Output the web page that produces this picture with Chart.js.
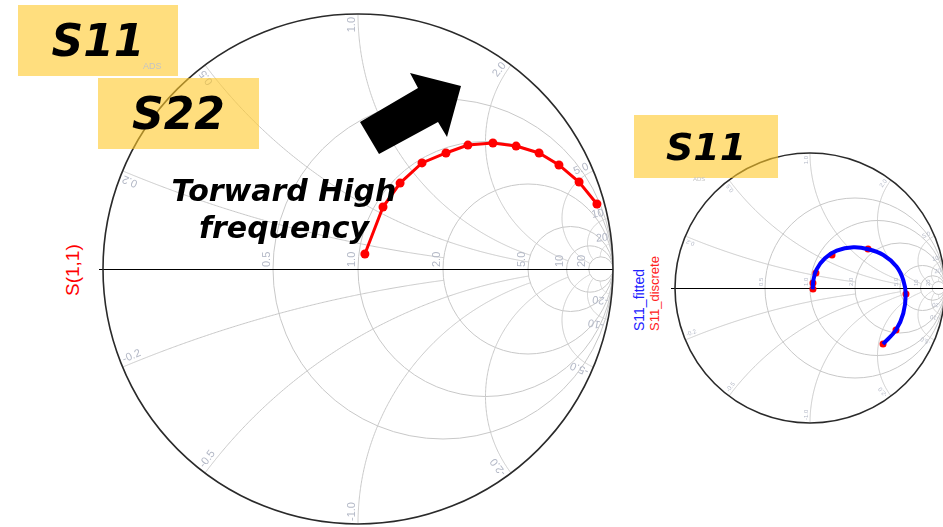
<!DOCTYPE html>
<html>
<head>
<meta charset="utf-8">
<script src="https://cdn.jsdelivr.net/npm/chart.js@4.4.1/dist/chart.umd.min.js"></script>
<style>
  html, body { margin: 0; padding: 0; background: #fff; width: 943px; height: 527px; overflow: hidden; }
  body { position: relative; font-family: "Liberation Sans", Arial, sans-serif; }
  canvas { position: absolute; }
  #leftChart { left: 93px; top: 4px; }
  #rightChart { left: 665px; top: 143px; }
  .tag {
    position: absolute; background: rgba(255, 200, 40, 0.6); color: #000;
    font: italic bold 44px "DejaVu Sans", sans-serif;
    display: flex; align-items: center; justify-content: center;
  }
  .ads { position: absolute; color: #c4c4c4; font-size: 9px; }
  .vlabel { position: absolute; white-space: nowrap; transform-origin: 0 0; transform: rotate(-90deg); }
  #note {
    position: absolute; left: 134px; top: 172px; width: 300px; text-align: center;
    font: italic bold 30px/37px "DejaVu Sans", sans-serif; color: #000;
  }
  #arrow { position: absolute; left: 0; top: 0; }
</style>
</head>
<body>
<canvas id="leftChart" width="530" height="530"></canvas>
<canvas id="rightChart" width="290" height="290"></canvas>

<div class="vlabel" style="left:63px; top:296px; color:#ff0000; font-size:19px; line-height:20px;">S(1,1)</div>
<div class="vlabel" style="left:632px; top:331px; color:#2020ff; font-size:14px; line-height:15px;">S11_fitted</div>
<div class="vlabel" style="left:647px; top:331px; color:#ff2020; font-size:13px; line-height:15px;">S11_discrete</div>

<svg id="arrow" width="943" height="527">
  <polygon points="360,122 418,88 410,73 461,86 447,137 438,122 379,154" fill="#000"/>
</svg>

<div class="tag" style="left:18px; top:5px; width:160px; height:71px;">S11</div>
<div class="ads" style="left:143px; top:61px;">ADS</div>
<div class="tag" style="left:98px; top:78px; width:161px; height:71px;">S22</div>
<div class="tag" style="left:634px; top:115px; width:144px; height:63px; font-size:38px;">S11</div>
<div class="ads" style="left:693px; top:176px; font-size:6px;">ADS</div>

<div id="note">Torward High<br>frequency</div>

<script>
// Smith chart grid values
const resistanceCircles = [0.5, 1, 2, 5, 10, 20];
const resistanceLabels = ['0.5', '1.0', '2.0', '5.0', '10', '20'];
const reactanceArcs = [0.2, 0.5, 1, 2, 5, 10, 20];
const reactanceLabels = ['0.2', '0.5', '1.0', '2.0', '5.0', '10', '20'];
// resistance at which each reactance arc stops
const reactanceStop = [2, 5, 5, 10, 20, 20, 20];

// S(1,1), reflection coefficient (real / imag)
const s11Re = [0.027, 0.098, 0.165, 0.251, 0.345, 0.431, 0.529, 0.620, 0.710, 0.788, 0.867, 0.937];
const s11Im = [0.059, 0.243, 0.337, 0.416, 0.455, 0.486, 0.494, 0.482, 0.455, 0.408, 0.341, 0.255];

// S11 fitted curve and discrete samples
const fittedRe = [0.541, 0.637, 0.691, 0.709, 0.691, 0.642, 0.543, 0.432, 0.321, 0.198, 0.111, 0.049, 0.025, 0.020];
const fittedIm = [-0.415, -0.311, -0.188, -0.047, 0.059, 0.158, 0.244, 0.287, 0.301, 0.276, 0.220, 0.138, 0.059, -0.010];
const discreteRe = [0.022, 0.022, 0.044, 0.163, 0.430, 0.711, 0.637, 0.541];
const discreteIm = [-0.007, 0.037, 0.111, 0.244, 0.289, -0.044, -0.311, -0.415];

const toPoints = (re, im) => re.map((v, i) => ({ x: v, y: im[i] }));

// z = r + jx  ->  gamma = (z - 1) / (z + 1)
function gamma(r, x) {
  const d = (r + 1) * (r + 1) + x * x;
  return [(r * r + x * x - 1) / d, 2 * x / d];
}

const smithGrid = {
  id: 'smithGrid',
  beforeDatasetsDraw(chart, args, opts) {
    const { ctx, scales: { x, y } } = chart;
    const px = g => x.getPixelForValue(g);
    const py = g => y.getPixelForValue(g);
    const cx = px(0), cy = py(0);
    const R = px(1) - cx;
    const fs = opts.fontSize || 10;

    ctx.save();
    ctx.beginPath();
    ctx.arc(cx, cy, R, 0, 2 * Math.PI);
    ctx.clip();
    ctx.strokeStyle = '#c8c8c8';
    ctx.lineWidth = 1;
    resistanceCircles.forEach(r => {
      ctx.beginPath();
      ctx.arc(px(r / (1 + r)), cy, R / (1 + r), 0, 2 * Math.PI);
      ctx.stroke();
    });
    reactanceArcs.forEach((v, i) => {
      const stop = reactanceStop[i];
      [v, -v].forEach(xv => {
        ctx.beginPath();
        for (let k = 0; k <= 300; k++) {
          const t = k / 300;
          const g = gamma(stop * t * t, xv);
          if (k === 0) ctx.moveTo(px(g[0]), py(g[1]));
          else ctx.lineTo(px(g[0]), py(g[1]));
        }
        ctx.stroke();
      });
    });
    ctx.restore();

    // real axis
    ctx.save();
    ctx.strokeStyle = '#000';
    ctx.lineWidth = 1;
    ctx.beginPath();
    ctx.moveTo(cx - R - 4, cy + 0.5);
    ctx.lineTo(cx + R, cy + 0.5);
    ctx.stroke();

    // outer rim
    ctx.strokeStyle = '#2a2a2a';
    ctx.lineWidth = 1.6;
    ctx.beginPath();
    ctx.arc(cx, cy, R, 0, 2 * Math.PI);
    ctx.stroke();

    // labels
    ctx.fillStyle = '#b3b8c6';
    ctx.font = fs + 'px "Liberation Sans", Arial, sans-serif';
    ctx.textBaseline = 'bottom';
    resistanceCircles.forEach((r, i) => {
      ctx.save();
      ctx.translate(px((r - 1) / (r + 1)), cy);
      ctx.rotate(-Math.PI / 2);
      ctx.textAlign = 'left';
      ctx.fillText(resistanceLabels[i], 2, -1);
      ctx.restore();
    });
    reactanceArcs.forEach((v, i) => {
      const g = gamma(0, v);
      const th = Math.atan2(g[1], g[0]);
      ctx.save();
      ctx.translate(px(g[0]), py(g[1]));
      ctx.rotate(-th);
      ctx.textAlign = 'right';
      ctx.fillText(reactanceLabels[i], -3, -1);
      ctx.restore();

      ctx.save();
      ctx.translate(px(g[0]), py(-g[1]));
      ctx.rotate(Math.PI + th);
      ctx.textAlign = 'left';
      ctx.fillText('-' + reactanceLabels[i], 3, -1);
      ctx.restore();
    });
    ctx.restore();
  }
};

const baseOptions = (fontSize) => ({
  responsive: false,
  animation: false,
  layout: { padding: 10 },
  scales: {
    x: { type: 'linear', min: -1, max: 1, display: false },
    y: { type: 'linear', min: -1, max: 1, display: false }
  },
  plugins: {
    legend: { display: false },
    tooltip: { enabled: false },
    smithGrid: { fontSize: fontSize }
  }
});

new Chart(document.getElementById('leftChart'), {
  type: 'scatter',
  data: {
    datasets: [{
      label: 'S(1,1)',
      data: toPoints(s11Re, s11Im),
      showLine: true,
      borderColor: '#ff0000',
      backgroundColor: '#ff0000',
      borderWidth: 3,
      pointRadius: 4.5,
      pointBorderWidth: 0
    }]
  },
  options: baseOptions(11),
  plugins: [smithGrid]
});

new Chart(document.getElementById('rightChart'), {
  type: 'scatter',
  data: {
    datasets: [{
      label: 'S11_fitted',
      data: toPoints(fittedRe, fittedIm),
      showLine: true,
      borderColor: '#0000ff',
      borderWidth: 4,
      tension: 0.4,
      pointRadius: 0
    }, {
      label: 'S11_discrete',
      data: toPoints(discreteRe, discreteIm),
      showLine: false,
      backgroundColor: '#ff0000',
      borderColor: '#ff0000',
      pointRadius: 3.5,
      pointBorderWidth: 0
    }]
  },
  options: baseOptions(6),
  plugins: [smithGrid]
});
</script>
</body>
</html>
